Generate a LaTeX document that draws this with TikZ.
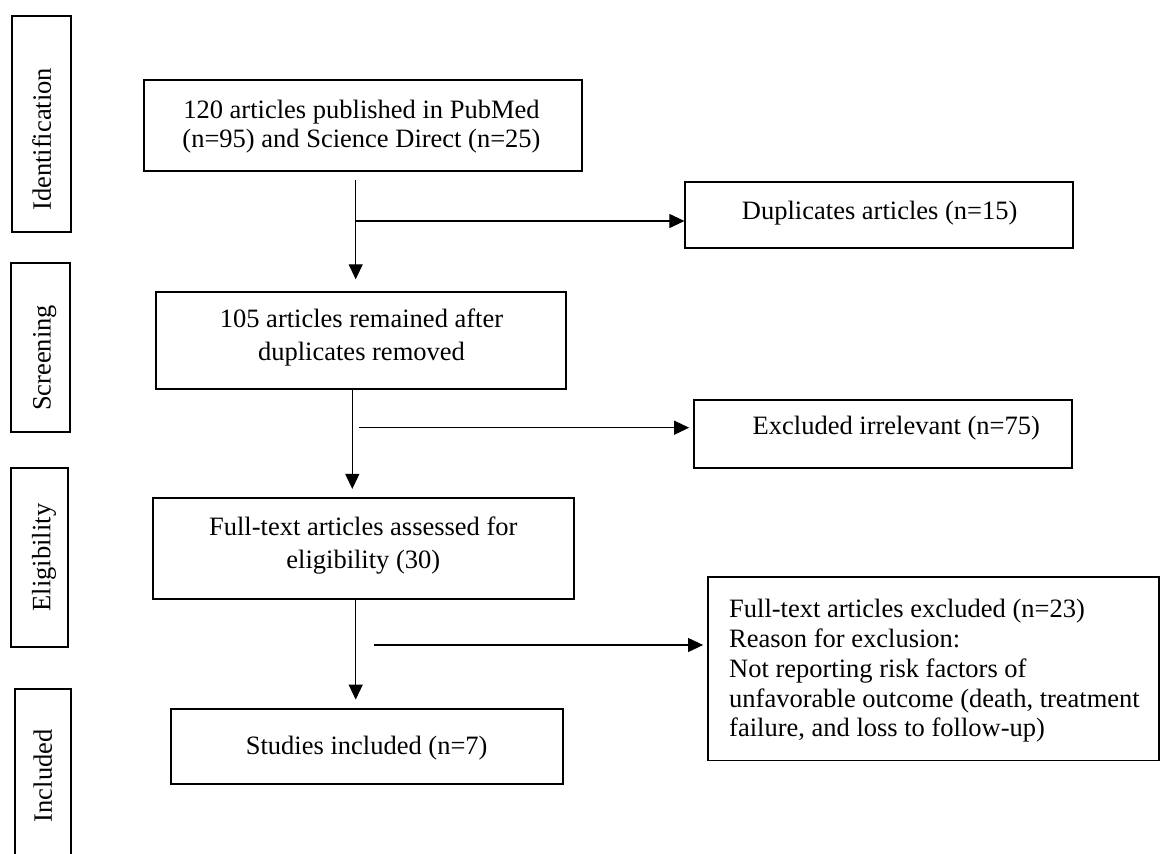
\documentclass[tikz,border=0pt]{standalone}
\usepackage{fontspec}
\setmainfont{Liberation Serif}
\usetikzlibrary{arrows.meta}
\begin{document}
\begin{tikzpicture}[x=1pt,y=-1pt,
  box/.style={draw, line width=1.8pt, inner sep=0pt},
  txt/.style={font=\fontsize{26.5}{29.7}\selectfont, inner sep=0pt, align=center},
  stage/.style={font=\fontsize{26.5}{29.7}\selectfont, inner sep=0pt, rotate=90},
  arr/.style={line width=1.1pt, -{Triangle[length=15pt,width=14pt]}}]
\useasboundingbox (0,0) rectangle (1160,854);
\clip (0,0) rectangle (1160,854);

% stage boxes
\node[box, minimum width=59.3pt, minimum height=216.3pt] (sid) at (41.4,123.9) {};
\node[box, minimum width=59pt, minimum height=169pt] (ssc) at (40.5,347.2) {};
\node[box, minimum width=57pt, minimum height=178.4pt] (sel) at (39.5,557.5) {};
\node[box, minimum width=56pt, minimum height=181pt] (sin) at (43,779.6) {};
\node[stage] (tid) at (41.7,139.4) {Identification};
\node[stage] (tsc) at (44.6,358) {Screening};
\node[stage] (tel) at (44,557.5) {Eligibility};
\node[stage] (tin) at (42.7,775.8) {Included};

% main boxes
\node[box, minimum width=438.3pt, minimum height=90.7pt] (b1) at (363.2,125.3) {};
\node[box, minimum width=410pt, minimum height=97.6pt] (b2) at (361,340.5) {};
\node[box, minimum width=421.6pt, minimum height=100.7pt] (b3) at (363.5,548.7) {};
\node[box, minimum width=392.6pt, minimum height=75pt] (b4) at (367,746.5) {};
\node[box, minimum width=388pt, minimum height=65.7pt] (dup) at (879.3,214.9) {};
\node[box, minimum width=378.3pt, minimum height=67.7pt] (exc) at (883.2,433.9) {};
\node[box, minimum width=451pt, minimum height=183.8pt] (ft) at (933.5,668.6) {};

% texts
\node[txt] (t1) at (361.5,126.5) {120 articles published in PubMed\\(n=95) and Science Direct (n=25)};
\node[txt, font=\fontsize{26.5}{32.5}\selectfont] (t2) at (361.5,337.7) {105 articles remained after\\duplicates removed};
\node[txt, font=\fontsize{26.5}{33}\selectfont] (t3) at (363.3,545.5) {Full-text articles assessed for\\eligibility (30)};
\node[txt] (t4) at (366.7,748.5) {Studies included (n=7)};
\node[txt] (tdup) at (879.7,213.5) {Duplicates articles (n=15)};
\node[txt] (texc) at (896.3,428.5) {Excluded irrelevant (n=75)};
\node[txt, align=left, anchor=west] (tft) at (729,671) {Full-text articles excluded (n=23)\\Reason for exclusion:\\Not reporting risk factors of\\unfavorable outcome (death, treatment\\failure, and loss to follow-up)};

% connectors
\draw[arr, shorten <=8pt, shorten >=11.5pt] ([xshift=-7.5pt]b1.south) -- ([xshift=-7.5pt]b1.south |- b2.north);
\coordinate (j1) at (355.7,221);
\draw[arr] (j1) -- (j1 -| dup.west);

\draw[arr, shorten >=8.5pt] ([xshift=-8.7pt]b2.south) -- ([xshift=-8.7pt]b2.south |- b3.north);
\coordinate (j2) at (359.3,427.7);
\draw[arr, shorten >=4pt] (j2) -- (j2 -| exc.west);

\draw[arr, shorten >=8.5pt] ([xshift=-7.8pt]b3.south) -- ([xshift=-7.8pt]b3.south |- b4.north);
\coordinate (j3) at (374.3,645);
\draw[arr, shorten >=4pt] (j3) -- (j3 -| ft.west);
\end{tikzpicture}
\end{document}
